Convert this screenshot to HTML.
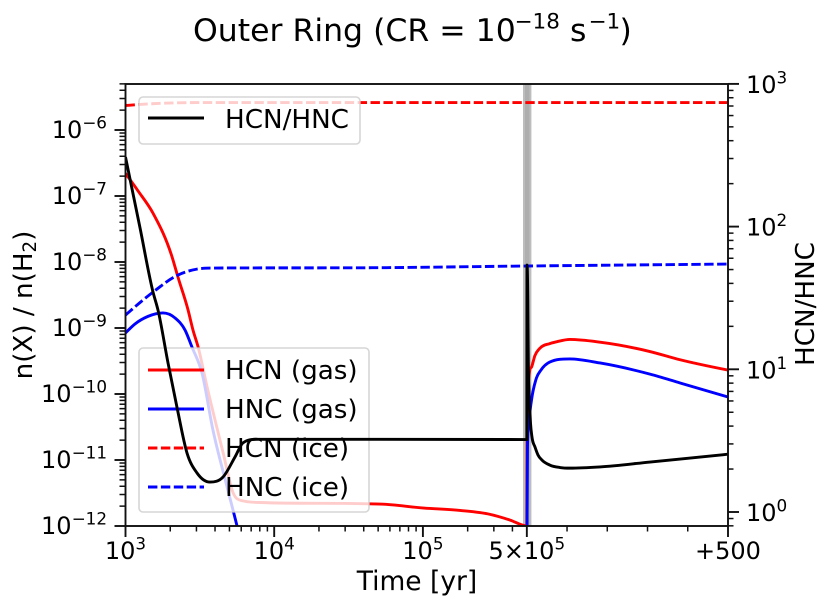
<!DOCTYPE html>
<html lang="en">
<head>
<meta charset="utf-8">
<title>Outer Ring (CR = 10^-18 s^-1)</title>
<style>
html,body{margin:0;padding:0;background:#fff;width:830px;height:609px;overflow:hidden}
svg{display:block}
text{font-family:"DejaVu Sans","Liberation Sans",sans-serif;fill:#000}
.tick{font-size:24px}
.leg{font-size:26.2px}
</style>
</head>
<body>
<svg id="chart" width="830" height="609" viewBox="0 0 830 609" xmlns="http://www.w3.org/2000/svg">
<defs><clipPath id="plot-clip"><rect x="125.5" y="84" width="602.5" height="442"/></clipPath></defs>
<text x="193" y="41" font-size="31.5">Outer Ring (CR = 10<tspan font-size="21.5" dy="-12.5" x="514.5">−18</tspan><tspan dy="12.5" x="570">s</tspan><tspan font-size="21.5" dy="-12.5" x="588.5">−1</tspan><tspan dy="12.5" x="619.5">)</tspan></text>
<rect x="125.5" y="84" width="602.5" height="442" fill="#fff"/>
<g>
<rect x="523" y="84" width="8.4" height="442" fill="#bdbdbd"/>
<rect x="525" y="84" width="4.4" height="442" fill="#aeaeae"/>
</g>
<g id="left-series" clip-path="url(#plot-clip)"></g>
<g>
<rect x="139" y="348" width="230" height="164" rx="4" ry="4" fill="#fff" fill-opacity="0.8" stroke="#ccc" stroke-opacity="0.8" stroke-width="1.6"/>
<line x1="148" x2="204" y1="370" y2="370" stroke="#f00" stroke-width="2.9"/>
<text class="leg" x="225" y="379">HCN (gas)</text>
<line x1="148" x2="204" y1="409" y2="409" stroke="#00f" stroke-width="2.9"/>
<text class="leg" x="225" y="418">HNC (gas)</text>
<line x1="148" x2="204" y1="448" y2="448" stroke="#f00" stroke-width="2.9" stroke-dasharray="9.4 3.5"/>
<text class="leg" x="225" y="457">HCN (ice)</text>
<line x1="148" x2="204" y1="487" y2="487" stroke="#00f" stroke-width="2.9" stroke-dasharray="9.4 3.5"/>
<text class="leg" x="225" y="496">HNC (ice)</text>
</g>
<g id="right-series" clip-path="url(#plot-clip)"></g>
<g>
<rect x="139" y="97" width="221" height="47" rx="4" ry="4" fill="#fff" fill-opacity="0.8" stroke="#ccc" stroke-opacity="0.8" stroke-width="1.6"/>
<line x1="148" x2="204" y1="118" y2="118" stroke="#000" stroke-width="2.9"/>
<text class="leg" x="225" y="128">HCN/HNC</text>
</g>
<g id="axes"></g>
<text x="417" y="590" text-anchor="middle" font-size="26.5">Time [yr]</text>
<text transform="translate(32 305) rotate(-90)" text-anchor="middle" font-size="26.2">n(X) / n(H<tspan font-size="18.3" dy="4">2</tspan><tspan dy="-4">)</tspan></text>
<text transform="translate(814 304) rotate(-90)" text-anchor="middle" font-size="26.2">HCN/HNC</text>
</svg>
<script>
// ---- data (years; abundances relative to H2; dimensionless ratio) ----
const hcnGasTime = [1000,1213,1531,2055,2254,2631,2844,3076,3532,4529,5290,6166,8017,51400,101600,177600,283000,385600,500000,500000.75,500002.5,500005,500007.5,500012,500020,500032,500057,500075,500107,500182,500306,500381,500500];
const hcnGasValues = [2.2e-7,1.2e-7,5.5e-8,1.2e-8,5.9e-9,1.9e-9,9.3e-10,5.2e-10,1.3e-10,1.3e-11,3.2e-12,2.4e-12,2.27e-12,2.15e-12,1.87e-12,1.72e-12,1.5e-12,1.23e-12,1e-12,1.4e-11,8e-11,1.75e-10,2.3e-10,2.57e-10,3.8e-10,4.9e-10,5.8e-10,6.2e-10,6.7e-10,6.1e-10,4.4e-10,3.3e-10,2.3e-10];
const hncGasTime = [1000,1158,1416,1786,2153,2514,2798,3266,3873,4820,5623,7080,500000,500000.75,500001.7,500005,500011.7,500024,500035,500057,500107,500182,500306,500381,500500];
const hncGasValues = [8.4e-10,1.15e-9,1.5e-9,1.69e-9,1.42e-9,9.3e-10,5.15e-10,2.1e-10,2.85e-11,3.9e-12,1e-12,1e-13,1e-13,1.6e-12,1.6e-11,3.6e-11,8.1e-11,1.75e-10,2.3e-10,3.05e-10,3.4e-10,2.95e-10,2e-10,1.47e-10,9e-11];
const hcnIceTime = [1000,1500,3000,500000,500500];
const hcnIceValues = [2.35e-6,2.5e-6,2.6e-6,2.6e-6,2.6e-6];
const hncIceTime = [1000,1531,2254,3020,4000,51400,500000,500500];
const hncIceValues = [1.57e-9,3.5e-9,6.35e-9,7.8e-9,8.1e-9,8.2e-9,8.7e-9,9.3e-9];
const ratioTime = [1000,1252,1531,1654,1932,2218,2592,3027,3698,4529,5450,6166,7660,51400,500000,500000.5,500002.5,500003.7,500005,500007.5,500009.2,500012.9,500020.4,500027.8,500037.8,500057.7,500082.5,500107,500182,500306,500381,500500];
const ratioValues = [307,98,34.8,26,11.07,5.44,2.59,1.876,1.62,1.76,2.43,3.05,3.23,3.23,3.22,53.8,30.6,11.6,7.76,5.18,4.2,3.35,2.85,2.51,2.31,2.13,2.05,2.03,2.07,2.24,2.35,2.54];
// ---- tick labels ----
const leftExponents = [-6,-7,-8,-9,-10,-11,-12];
const rightExponents = [3,2,1,0];
const xLogExponents = [3,4,5];
const xPostOffsets = [100,200,300,400];

const SVGNS = 'http://www.w3.org/2000/svg';
// ---- axis functions ----
function xScale(t){
  if(t <= 500000) return 125.5 + (Math.log10(t) - 3) * 148.7;
  return 526.8 + (t - 500000) * 201.2 / 500;
}
function yLeft(v){ return 130 + (-6 - Math.log10(v)) * 66; }
function yRight(v){ return 512 - Math.log10(v) * 142.7; }

function monotonePath(xs, ys){
  const n = xs.length, s = [], m = [];
  for(let i = 0; i < n - 1; i++) s.push((ys[i+1] - ys[i]) / (xs[i+1] - xs[i]));
  for(let i = 1; i < n - 1; i++){
    const h0 = xs[i] - xs[i-1], h1 = xs[i+1] - xs[i];
    const p = (s[i-1] * h1 + s[i] * h0) / (h0 + h1);
    if(s[i-1] * s[i] <= 0) m[i] = 0;
    else m[i] = Math.sign(s[i]) * Math.min(3 * Math.abs(s[i-1]), 3 * Math.abs(s[i]), Math.abs(p));
  }
  m[0] = (3 * s[0] - m[1]) / 2;
  m[n-1] = (3 * s[n-2] - m[n-2]) / 2;
  let d = 'M' + xs[0].toFixed(2) + ' ' + ys[0].toFixed(2);
  for(let i = 0; i < n - 1; i++){
    const h = (xs[i+1] - xs[i]) / 3;
    d += 'C' + (xs[i] + h).toFixed(2) + ' ' + (ys[i] + m[i] * h).toFixed(2) + ' ' +
         (xs[i+1] - h).toFixed(2) + ' ' + (ys[i+1] - m[i+1] * h).toFixed(2) + ' ' +
         xs[i+1].toFixed(2) + ' ' + ys[i+1].toFixed(2);
  }
  return d;
}
function drawSeries(parent, name, times, values, yFn, color, dashed){
  const p = document.createElementNS(SVGNS, 'path');
  
  
  p.setAttribute('d', monotonePath(times.map(xScale), values.map(yFn)));
  p.setAttribute('fill', 'none');
  p.setAttribute('stroke', color);
  p.setAttribute('stroke-width', '2.9');
  p.setAttribute('stroke-linejoin', 'round');
  if(dashed) p.setAttribute('stroke-dasharray', '9.4 3.5');
  parent.appendChild(p);
}
const leftGroup = document.getElementById('left-series');
const rightGroup = document.getElementById('right-series');
drawSeries(leftGroup, 'line-hcn-gas', hcnGasTime, hcnGasValues, yLeft, '#f00', false);
drawSeries(leftGroup, 'line-hnc-gas', hncGasTime, hncGasValues, yLeft, '#00f', false);
drawSeries(leftGroup, 'line-hcn-ice', hcnIceTime, hcnIceValues, yLeft, '#f00', true);
drawSeries(leftGroup, 'line-hnc-ice', hncIceTime, hncIceValues, yLeft, '#00f', true);
drawSeries(rightGroup, 'line-hcn-hnc-ratio', ratioTime, ratioValues, yRight, '#000', false);

// ---- axes ----
const axes = document.getElementById('axes');
function drawTick(x1, y1, x2, y2, width, name){
  const l = document.createElementNS(SVGNS, 'line');
  
  
  l.setAttribute('x1', x1);
  l.setAttribute('y1', y1);
  l.setAttribute('x2', x2);
  l.setAttribute('y2', y2);
  l.setAttribute('stroke', '#111');
  l.setAttribute('stroke-width', width);
  axes.appendChild(l);
}
function drawPowerLabel(x, y, anchor, base, exponent, name){
  const t = document.createElementNS(SVGNS, 'text');
  
  
  t.setAttribute('class', 'tick');
  t.setAttribute('x', x);
  t.setAttribute('y', y);
  t.setAttribute('text-anchor', anchor);
  t.appendChild(document.createTextNode(base));
  const sup = document.createElementNS(SVGNS, 'tspan');
  sup.setAttribute('font-size', '16.8');
  sup.setAttribute('dy', '-9.5');
  sup.textContent = String(exponent).replace('-', '\u2212');
  t.appendChild(sup);
  axes.appendChild(t);
}
// left axis
leftExponents.forEach(function(e){
  const y = yLeft(Math.pow(10, e));
  drawTick(114.5, y, 125.5, y, 1.9, 'left-major-tick');
  drawPowerLabel(107, y + 8, 'end', '10', e, 'left-tick-label');
  for(let k = 2; k <= 9; k++){
    const my = yLeft(k * Math.pow(10, e));
    if(my >= 83.5) drawTick(119.5, my, 125.5, my, 1.5, 'left-minor-tick');
  }
});
// right axis
rightExponents.forEach(function(e){
  const y = yRight(Math.pow(10, e));
  drawTick(728, y, 739, y, 1.9, 'right-major-tick');
  drawPowerLabel(746, y + 9, 'start', '10', e, 'right-tick-label');
  if(e < 3){
    for(let k = 2; k <= 9; k++){
      const my = yRight(k * Math.pow(10, e));
      drawTick(728, my, 733.5, my, 1.5, 'right-minor-tick');
    }
  }
});
[0.8, 0.9].forEach(function(v){
  drawTick(728, yRight(v), 733.5, yRight(v), 1.5, 'right-minor-tick');
});
// bottom axis
xLogExponents.forEach(function(e){
  const x = xScale(Math.pow(10, e));
  drawTick(x, 526, x, 537, 1.9, 'x-major-tick');
  drawPowerLabel(x, 559, 'middle', '10', e, 'x-tick-label');
  for(let k = 2; k <= 9; k++){
    if(k * Math.pow(10, e) < 500000){
      const mx = xScale(k * Math.pow(10, e));
      drawTick(mx, 526, mx, 531.5, 1.5, 'x-minor-tick');
    }
  }
});
const splitX = xScale(500000);
drawTick(splitX, 526, splitX, 537, 1.9, 'x-major-tick');
drawPowerLabel(splitX, 559, 'middle', '5\u00d710', 5, 'x-tick-label');
xPostOffsets.forEach(function(dt){
  const mx = xScale(500000 + dt);
  drawTick(mx, 526, mx, 531.5, 1.5, 'x-minor-tick');
});
const endX = xScale(500500);
drawTick(endX, 526, endX, 537, 1.9, 'x-major-tick');
const endLabel = document.createElementNS(SVGNS, 'text');


endLabel.setAttribute('class', 'tick');
endLabel.setAttribute('x', endX);
endLabel.setAttribute('y', 559);
endLabel.setAttribute('text-anchor', 'middle');
endLabel.textContent = '+500';
axes.appendChild(endLabel);
// spines
const frame = document.createElementNS(SVGNS, 'rect');


frame.setAttribute('x', 125.5);
frame.setAttribute('y', 84);
frame.setAttribute('width', 602.5);
frame.setAttribute('height', 442);
frame.setAttribute('fill', 'none');
frame.setAttribute('stroke', '#111');
frame.setAttribute('stroke-width', 1.9);
axes.appendChild(frame);
</script>
</body>
</html>
